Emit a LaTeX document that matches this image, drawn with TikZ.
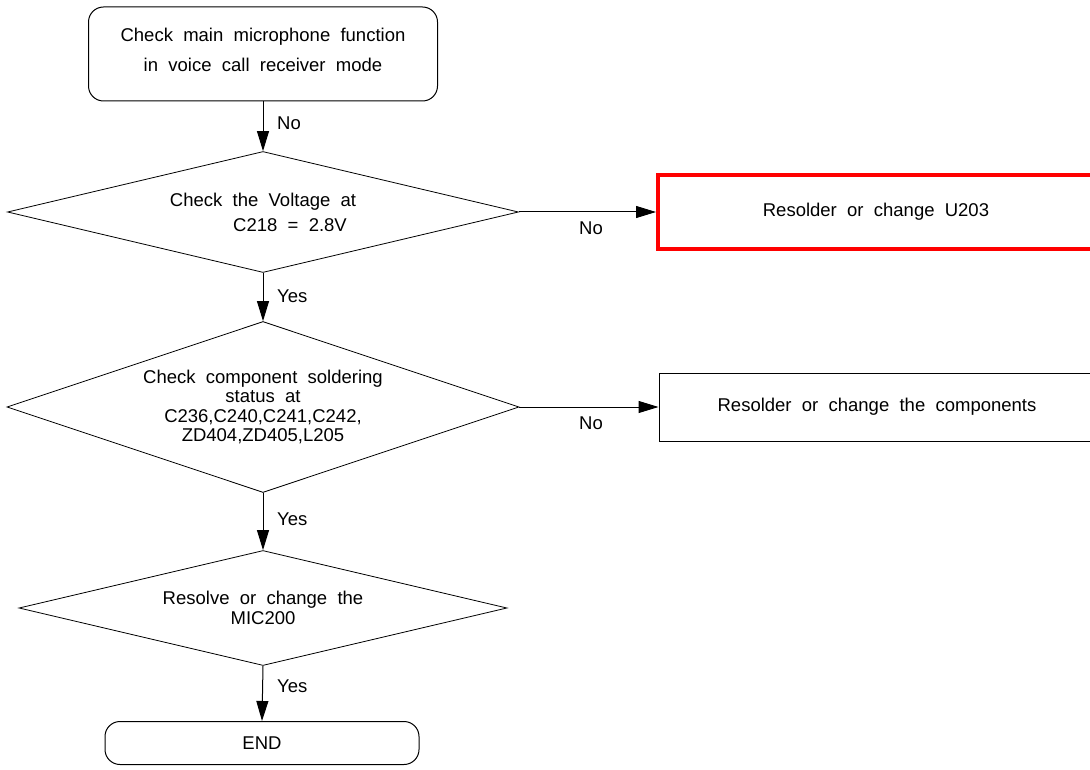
\documentclass[tikz,border=0pt]{standalone}
\usepackage{fontspec}
\setmainfont{Liberation Sans}[WordSpace=2]
\usetikzlibrary{shapes.geometric,arrows.meta}
\begin{document}
\begin{tikzpicture}[x=1pt,y=-1pt,
  every node/.style={font=\fontsize{18.5}{19.5}\selectfont},
  term/.style={draw,line width=1pt,rounded corners=15pt,inner sep=0pt,align=center},
  dec/.style={draw,line width=0.8pt,shape=diamond,inner sep=0pt,align=center},
  act/.style={draw,line width=1pt,inner sep=0pt,align=center,minimum width=436pt},
  arr/.style={line width=1pt,-{Triangle[length=20pt,width=12pt]}},
  lbl/.style={anchor=west,inner sep=0pt}]
\useasboundingbox (0,0) rectangle (1090,770);
\node[term,minimum width=349pt,minimum height=94pt] (start) at (263,54)
  {Check main microphone function\\[10.5pt]in voice call receiver mode\rule[-8pt]{0pt}{8pt}};
\node[dec,minimum width=511pt,minimum height=121pt,shape aspect=4.2] (d1) at (263,212)
  {Check the Voltage at\\[5.5pt]\hspace*{54pt}C218 = 2.8V};
\node[dec,minimum width=512pt,minimum height=171pt,shape aspect=3] (d2) at (263,407)
  {Check component soldering\\status at\\C236,C240,C241,C242,\\ZD404,ZD405,L205};
\node[dec,minimum width=488pt,minimum height=115pt,shape aspect=4.2] (d3) at (263,608)
  {Resolve or change the\\MIC200};
\node[term,minimum width=314pt,minimum height=43pt] (end) at (262,743) {END};
\node[act,draw=red,line width=4pt,minimum height=74pt] (r1) at (876,212) {Resolder or change U203};
\node[act,minimum height=68pt] (r2) at (877,407) {Resolder or change the components};
\draw[arr] (start.south) -- (d1.north);
\draw[arr] (d1.south) -- (d2.north);
\draw[arr] (d2.south) -- (d3.north);
\draw[arr] (d3.south) -- (end.north);
\draw[arr] (d1.east) -- (r1.west);
\draw[arr] (d2.east) -- (r2.west);
\node[lbl] (l1) at (277,123) {No};
\node[lbl] (l2) at (277,296) {Yes};
\node[lbl] (l3) at (277,519) {Yes};
\node[lbl] (l4) at (277,686) {Yes};
\node (l5) at (591,228) {No};
\node (l6) at (591,423) {No};
\end{tikzpicture}
\end{document}
